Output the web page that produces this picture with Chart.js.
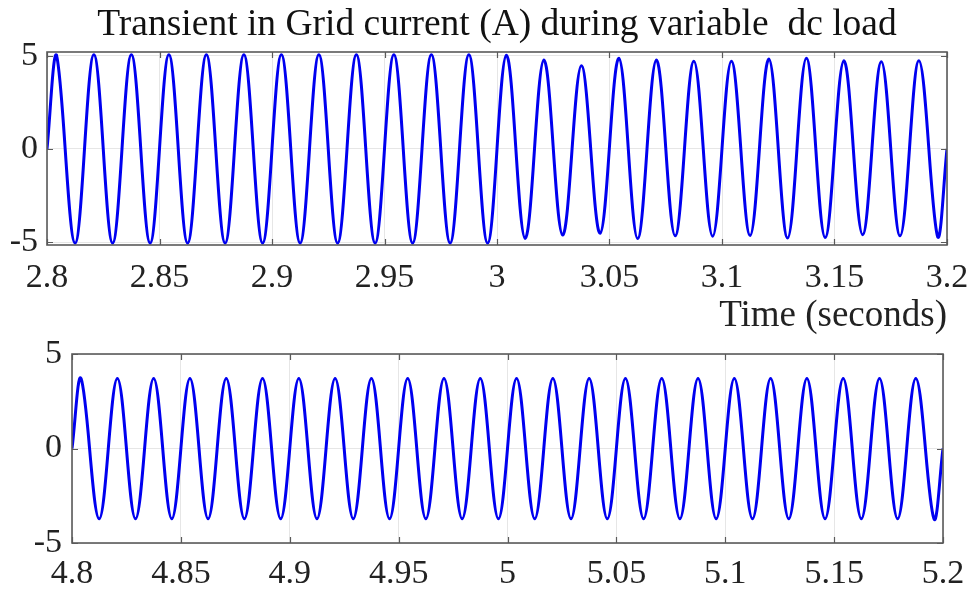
<!DOCTYPE html>
<html>
<head>
<meta charset="utf-8">
<script src="https://cdn.jsdelivr.net/npm/chart.js@4.4.1/dist/chart.umd.min.js"></script>
<style>
  html, body { margin: 0; padding: 0; background: #ffffff; }
  body { width: 971px; height: 592px; position: relative; overflow: hidden; }
  canvas { position: absolute; left: 0; }
  #topChart { top: 0; }
  #bottomChart { top: 310px; }
</style>
</head>
<body>
<canvas id="bottomChart" width="971" height="282"></canvas>
<canvas id="topChart" width="971" height="340"></canvas>
<script>
// ---------------- data ----------------
const titleText = "Transient in Grid current (A) during variable  dc load";
const xAxisTitle = "Time (seconds)";
const FREQ_HZ = 60;

// upper panel: 2.8 s .. 3.2 s, per-cycle positive peak and negative trough (A)
const topStart = 2.8;
const topEnd = 3.2;
const topPeaks =   [5.05, 5.05, 5.05, 5.05, 5.05, 5.05, 5.05, 5.05, 5.05, 5.05, 5.05, 5.05,
                    5.03, 4.77, 4.46, 4.86, 4.77, 4.71, 4.71, 4.82, 4.86, 4.73, 4.68, 4.73];
const topTroughs = [-5.05, -5.05, -5.05, -5.05, -5.05, -5.05, -5.05, -5.05, -5.05, -5.05, -5.05, -5.05,
                    -4.80, -4.62, -4.52, -4.80, -4.66, -4.68, -4.64, -4.78, -4.75, -4.60, -4.66, -4.70];
const topTickLabels = ["2.8", "2.85", "2.9", "2.95", "3", "3.05", "3.1", "3.15", "3.2"];
const topYMin = -5.15;
const topYMax = 5.2;

// lower panel: 4.8 s .. 5.2 s
const bottomStart = 4.8;
const bottomEnd = 5.2;
const bottomPeaks =   [3.70, 3.70, 3.70, 3.70, 3.70, 3.70, 3.70, 3.70, 3.70, 3.70, 3.70, 3.70,
                       3.70, 3.70, 3.70, 3.70, 3.70, 3.70, 3.70, 3.70, 3.70, 3.70, 3.70, 3.70];
const bottomTroughs = [-3.72, -3.72, -3.72, -3.72, -3.72, -3.72, -3.72, -3.72, -3.72, -3.72, -3.72, -3.72,
                       -3.72, -3.72, -3.72, -3.72, -3.72, -3.72, -3.72, -3.72, -3.72, -3.72, -3.72, -3.72];
const bottomTickLabels = ["4.8", "4.85", "4.9", "4.95", "5", "5.05", "5.1", "5.15", "5.2"];
const bottomYMin = -5;
const bottomYMax = 5;

const yTickLabels = ["-5", "0", "5"];

// ---------------- build point tables (start, peaks, troughs, end) ----------------
function buildWave(start, peaks, troughs, end) {
  const q = 1 / (4 * FREQ_HZ);
  const pts = [{ x: start, y: 0 }];
  peaks.forEach((p, k) => {
    const t0 = start + 4 * k * q;
    pts.push({ x: t0 + q, y: p }, { x: t0 + 3 * q, y: troughs[k] });
  });
  pts.push({ x: end, y: 0 });
  return pts;
}

const SERIF = "'Liberation Serif', 'Times New Roman', Times, serif";
const TEXT = '#222222';
const GRID = '#e6e6e6';
const BOX = '#5a5a5a';

const boxPlugin = {
  id: 'matlabBox',
  afterDatasetsDraw(chart) {
    const { ctx, chartArea: a } = chart;
    const xs = chart.scales.x, ys = chart.scales.y;
    ctx.save();
    ctx.strokeStyle = BOX;
    ctx.lineWidth = 1.2;
    const tl = 6;
    ctx.beginPath();
    xs.ticks.forEach((t, i) => {
      const px = Math.round(xs.getPixelForTick(i)) + 0.5;
      ctx.moveTo(px, a.bottom); ctx.lineTo(px, a.bottom - tl);
      ctx.moveTo(px, a.top); ctx.lineTo(px, a.top + tl);
    });
    ys.ticks.forEach((t, i) => {
      const py = Math.round(ys.getPixelForTick(i)) + 0.5;
      ctx.moveTo(a.left, py); ctx.lineTo(a.left + tl, py);
      ctx.moveTo(a.right, py); ctx.lineTo(a.right - tl, py);
    });
    ctx.stroke();
    ctx.lineWidth = 1.6;
    ctx.strokeRect(a.left, a.top, a.right - a.left, a.bottom - a.top);
    ctx.restore();
  }
};

function makeChart(id, cfg) {
  const tickVals = cfg.xLabels.map(Number);
  const yVals = yTickLabels.map(Number);
  return new Chart(document.getElementById(id), {
    type: 'line',
    data: {
      datasets: [{
        data: buildWave(cfg.start, cfg.peaks, cfg.troughs, cfg.end),
        borderColor: 'rgb(0,0,240)',
        borderWidth: 3,
        pointRadius: 0,
        fill: false,
        tension: 0.365
      }]
    },
    plugins: [boxPlugin],
    options: {
      responsive: false,
      animation: false,
      devicePixelRatio: 1,
      layout: { padding: cfg.padding },
      plugins: {
        legend: { display: false },
        tooltip: { enabled: false },
        title: cfg.title ? {
          display: true,
          text: cfg.title,
          fullSize: false,
          color: '#111111',
          font: { family: SERIF, size: 37.5, weight: 'normal' },
          padding: { top: 3, bottom: 4 }
        } : { display: false }
      },
      scales: {
        x: {
          type: 'linear',
          min: cfg.start,
          max: cfg.end,
          afterBuildTicks: (s) => { s.ticks = tickVals.map(v => ({ value: v })); },
          afterFit: (s) => { s.height = cfg.xHeight; s.paddingLeft = 0; s.paddingRight = 0; },
          ticks: {
            autoSkip: false,
            maxRotation: 0,
            padding: cfg.xPad,
            color: TEXT,
            font: { family: SERIF, size: 34 },
            callback: (v) => { const i = tickVals.indexOf(v); return i >= 0 ? cfg.xLabels[i] : ''; }
          },
          grid: { color: GRID, lineWidth: 1, drawTicks: false },
          border: { display: false },
          title: cfg.xTitle ? {
            display: true,
            text: cfg.xTitle,
            align: 'end',
            color: TEXT,
            font: { family: SERIF, size: 37 },
            padding: { top: 0, bottom: 2 }
          } : { display: false }
        },
        y: {
          type: 'linear',
          min: cfg.yMin,
          max: cfg.yMax,
          afterBuildTicks: (s) => { s.ticks = yVals.map(v => ({ value: v })); },
          afterFit: (s) => { s.width = cfg.yWidth; s.paddingTop = 0; s.paddingBottom = 0; },
          ticks: {
            padding: cfg.yPad,
            color: TEXT,
            font: { family: SERIF, size: 34 },
            callback: (v) => { const i = yVals.indexOf(v); return i >= 0 ? yTickLabels[i] : ''; }
          },
          grid: { color: GRID, lineWidth: 1, drawTicks: false },
          border: { display: false }
        }
      }
    }
  });
}

makeChart('topChart', {
  start: topStart, end: topEnd, peaks: topPeaks, troughs: topTroughs,
  xLabels: topTickLabels, yMin: topYMin, yMax: topYMax,
  title: titleText, xTitle: xAxisTitle,
  padding: { left: 0, right: 24, top: 0, bottom: 0 },
  xHeight: 95, yWidth: 47, xPad: 13, yPad: 9
});

makeChart('bottomChart', {
  start: bottomStart, end: bottomEnd, peaks: bottomPeaks, troughs: bottomTroughs,
  xLabels: bottomTickLabels, yMin: bottomYMin, yMax: bottomYMax,
  title: null, xTitle: null,
  padding: { left: 0, right: 28, top: 44, bottom: 0 },
  xHeight: 49, yWidth: 72, xPad: 11, yPad: 10
});
</script>
</body>
</html>
